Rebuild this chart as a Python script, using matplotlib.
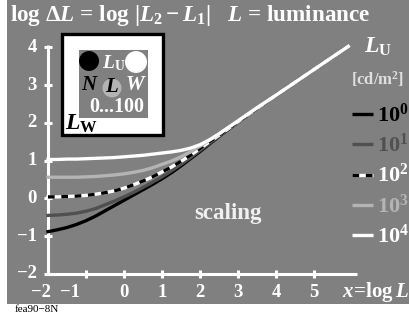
import matplotlib
matplotlib.use("Agg")
import matplotlib.pyplot as plt
from matplotlib.patches import Rectangle, Circle

plt.rcParams["font.family"] = "Liberation Serif"
plt.rcParams["font.weight"] = "bold"
plt.rcParams["mathtext.fontset"] = "custom"
plt.rcParams["mathtext.rm"] = "Liberation Serif:bold"
plt.rcParams["mathtext.bf"] = "Liberation Serif:bold"
plt.rcParams["mathtext.it"] = "Liberation Serif:italic:bold"

# data
x = [-2, -1.75, -1.5, -1.25, -1, -0.75, -0.5, -0.25, 0, 0.25, 0.5, 0.75, 1,
     1.25, 1.5, 1.75, 2, 2.25, 2.5, 3, 3.5, 4, 4.5, 5, 5.5, 5.9]
y_1e0 = [-0.88, -0.83, -0.77, -0.69, -0.59, -0.47, -0.33, -0.19, -0.05, 0.09, 0.23, 0.37, 0.52,
         0.68, 0.86, 1.05, 1.24, 1.44, 1.64, 2.02, 2.38, 2.73, 3.07, 3.41, 3.75, 4.02]
y_1e1 = [-0.45, -0.44, -0.42, -0.39, -0.34, -0.27, -0.17, -0.07, 0.04, 0.16, 0.29, 0.43, 0.57,
         0.73, 0.90, 1.08, 1.27, 1.46, 1.65, 2.02, 2.38, 2.73, 3.07, 3.41, 3.75, 4.02]
y_1e2 = [0.04, 0.04, 0.05, 0.06, 0.08, 0.11, 0.15, 0.20, 0.27, 0.36, 0.46, 0.57, 0.70,
         0.83, 0.98, 1.14, 1.32, 1.50, 1.67, 2.03, 2.38, 2.73, 3.07, 3.41, 3.75, 4.02]
y_1e3 = [0.56, 0.56, 0.56, 0.56, 0.57, 0.58, 0.60, 0.62, 0.65, 0.69, 0.74, 0.81, 0.90,
         0.99, 1.10, 1.23, 1.38, 1.54, 1.70, 2.05, 2.39, 2.73, 3.07, 3.41, 3.75, 4.02]
y_1e4 = [1.03, 1.03, 1.04, 1.04, 1.05, 1.06, 1.07, 1.08, 1.10, 1.12, 1.14, 1.17, 1.20,
         1.23, 1.27, 1.33, 1.42, 1.55, 1.71, 2.05, 2.40, 2.73, 3.07, 3.41, 3.75, 4.02]
legend_labels = ["0", "1", "2", "3", "4"]
xticks = [-2, -1, 0, 1, 2, 3, 4, 5]
yticks = [-2, -1, 0, 1, 2, 3, 4]

GRAY = "#808080"
DARK = "#505050"
LIGHT = "#b4b4b4"


def px(u, v):
    # pixel position -> data position
    return (-2 + (u - 48) / 38.0, -2 + (274 - v) / 37.8)


def lab(t):
    return "\u2212%d" % -t if t < 0 else str(t)


fig = plt.figure(figsize=(4.09, 3.16), dpi=100, facecolor="white")
ax = fig.add_axes([0, 0, 1, 1])
x0, y1 = px(0, 0)
x1, y0 = px(409, 316)
ax.set_xlim(x0, x1)
ax.set_ylim(y0, y1)
ax.axis("off")

# gray panel
rx0, ry0 = px(7, 304)
rx1, ry1 = px(409, 0)
ax.add_patch(Rectangle((rx0, ry0), rx1 - rx0, ry1 - ry0, facecolor=GRAY,
                       edgecolor="none", zorder=0, clip_on=False))

# axes
ax.plot([-2, -2], [-2, 4.06], color="white", lw=2.2, solid_capstyle="butt")
ax.plot([-2, 6.12], [-2, -2], color="white", lw=2.2, solid_capstyle="butt")
for t in yticks:
    ax.plot([-2.11, -1.89], [t, t], color="white", lw=2.2, solid_capstyle="butt")
    ax.text(-2.29, t, lab(t), color="white", fontsize=13.5, ha="right", va="center")
for t in xticks[1:]:
    ax.plot([t, t], [-2.1, -1.9], color="white", lw=2.2, solid_capstyle="butt")
lab_x = {-2: -2.18, -1: -1.42}
for t in xticks:
    ax.text(lab_x.get(t, t), -2.48, lab(t), color="white", fontsize=13.5,
            ha="center", va="center")
ax.text(*px(409, 292), r"$x\!=\!\mathrm{log}\,L$", color="white", fontsize=15,
        ha="right", va="center")

# curves
lw = 2.4
ax.plot(x, y_1e0, color="black", lw=lw)
ax.plot(x, y_1e1, color=DARK, lw=lw)
ax.plot(x, y_1e2, color="white", lw=lw)
ax.plot(x, y_1e2, color="black", lw=lw, dashes=(2, 2))
ax.plot(x, y_1e3, color=LIGHT, lw=lw)
ax.plot(x, y_1e4, color="white", lw=lw)

# title and labels
ax.text(*px(10, 15), r"log $\Delta L$ = log $|L_2 - L_1|$   $L$ = luminance",
        color="white", fontsize=16.7, ha="left", va="center")
ax.text(*px(228, 213), "scaling", color="#f0f0f0", fontsize=16.5,
        ha="center", va="center")
ax.text(*px(15, 310), "fea90\u22128N", color="black", fontsize=8,
        fontweight="normal", ha="left", va="center")

# legend
ax.text(*px(364, 47), r"$L_\mathrm{U}$", color="white", fontsize=17,
        ha="left", va="center")
ax.text(*px(351, 79), r"[cd/m$^2$]", color="#e0e0e0", fontsize=12,
        ha="left", va="center")
leg_colors = ["black", DARK, "white", LIGHT, "white"]
for i, s in enumerate(legend_labels):
    yy = 114 + 30.3 * i
    xa, ya = px(352, yy)
    xb, _ = px(373, yy)
    ax.plot([xa, xb], [ya, ya], color=leg_colors[i], lw=lw, solid_capstyle="butt")
    if i == 2:
        ax.plot([xa, xb], [ya, ya], color="black", lw=lw, dashes=(2, 2),
                solid_capstyle="butt")
    ax.text(*px(377, yy + 1), r"$10^{%s}$" % s, color=leg_colors[i],
            fontsize=16, ha="left", va="center")

# inset box
bx0, by0 = px(62, 135)
bx1, by1 = px(163, 34)
ax.add_patch(Rectangle((bx0, by0), bx1 - bx0, by1 - by0, facecolor="white",
                       edgecolor="black", lw=2.4, zorder=3))
gx0, gy0 = px(79, 118)
gx1, gy1 = px(148, 50)
ax.add_patch(Rectangle((gx0, gy0), gx1 - gx0, gy1 - gy0, facecolor=GRAY,
                       edgecolor="none", zorder=4))
ax.add_patch(Circle(px(89, 61), 10 / 38, facecolor="black", edgecolor="none", zorder=5))
ax.add_patch(Circle(px(136, 62), 11 / 38, facecolor="white", edgecolor="none", zorder=5))
ax.add_patch(Circle(px(112, 88), 9.5 / 38, facecolor=LIGHT, edgecolor="none", zorder=5))
ax.text(*px(102, 63), r"$L_\mathrm{U}$", color="white", fontsize=14,
        ha="left", va="center", zorder=6)
ax.text(*px(90, 85), r"$N$", color="black", fontsize=15, ha="center", va="center", zorder=6)
ax.text(*px(112, 87), r"$L$", color="black", fontsize=15, ha="center", va="center", zorder=6)
ax.text(*px(136, 85), r"$W$", color="white", fontsize=15, ha="center", va="center", zorder=6)
ax.text(*px(117, 107), "0...100", color="white", fontsize=14.5, ha="center",
        va="center", zorder=6)
ax.text(*px(65, 124), r"$L_\mathrm{W}$", color="black", fontsize=17,
        ha="left", va="center", zorder=6)

fig.savefig("out.png", dpi=100, facecolor="white")
